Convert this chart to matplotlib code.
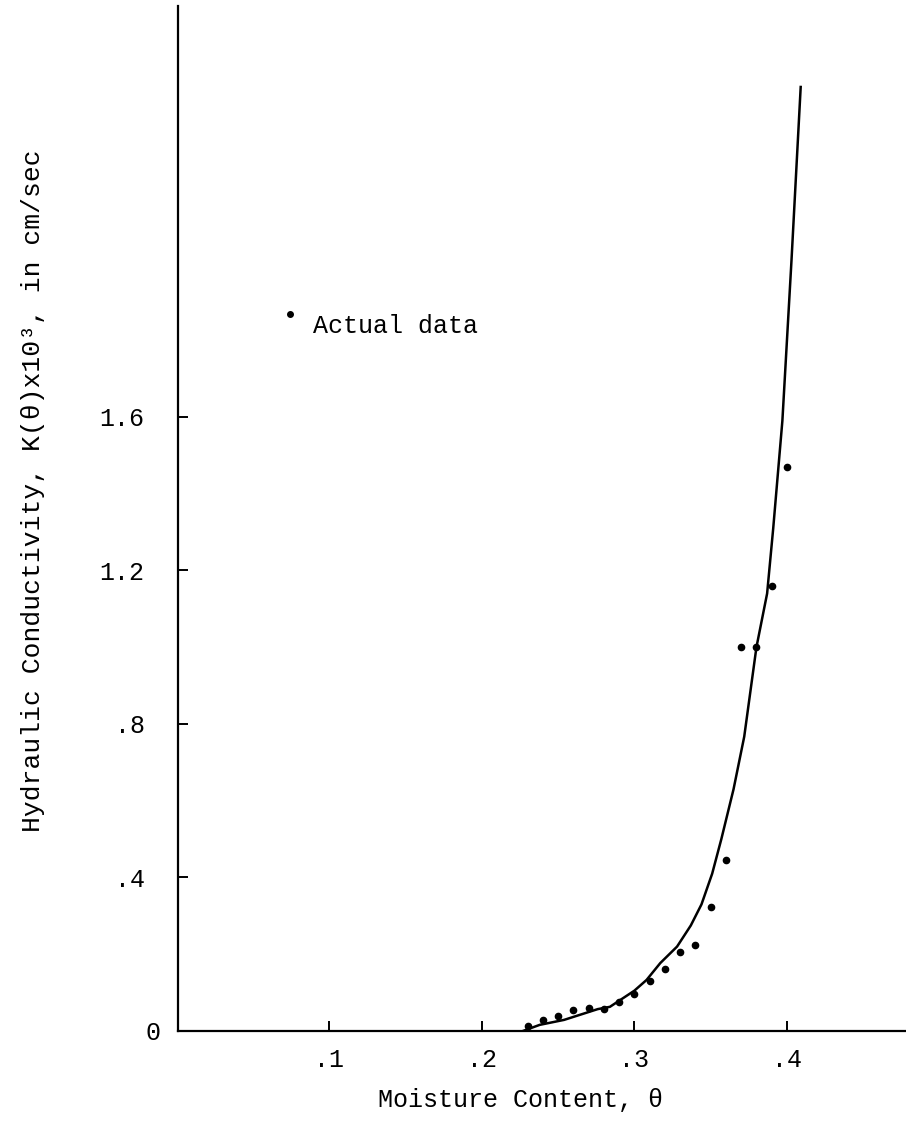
import matplotlib
matplotlib.use("Agg")
import matplotlib.pyplot as plt
from matplotlib.transforms import ScaledTranslation

# Actual data points (moisture content vs K x 10^3)
theta_data = [0.23, 0.24, 0.25, 0.26, 0.27, 0.28, 0.29, 0.30, 0.31,
              0.32, 0.33, 0.34, 0.35, 0.36, 0.37, 0.38, 0.39, 0.40]
k_data = [0.013, 0.029, 0.039, 0.055, 0.060, 0.057, 0.076, 0.096, 0.130,
          0.162, 0.206, 0.224, 0.323, 0.446, 1.00, 1.00, 1.16, 1.47]

# Fitted curve
theta_fit = [0.227, 0.238, 0.254, 0.276, 0.284, 0.300, 0.308, 0.317, 0.328,
             0.337, 0.344, 0.351, 0.357, 0.365, 0.372, 0.380, 0.387, 0.391,
             0.397, 0.403, 0.409]
k_fit = [0.0, 0.016, 0.029, 0.057, 0.063, 0.105, 0.133, 0.177, 0.22,
         0.275, 0.33, 0.41, 0.50, 0.63, 0.767, 1.0, 1.14, 1.31,
         1.59, 2.01, 2.46]

x_ticks = [0.1, 0.2, 0.3, 0.4]
x_labels = [".1", ".2", ".3", ".4"]
y_ticks = [0, 0.4, 0.8, 1.2, 1.6]
y_labels = ["0", ".4", ".8", "1.2", "1.6"]

font = ["Liberation Mono", "DejaVu Sans Mono"]
plt.rcParams["font.family"] = font
plt.rcParams["font.size"] = 18

W, H = 906, 1137
fig = plt.figure(figsize=(W / 100, H / 100), dpi=100)
left, right, bottom, top = 178, 906, 1031, 6
ax = fig.add_axes([left / W, (H - bottom) / H, (right - left) / W, (bottom - top) / H])

ax.plot(theta_fit, k_fit, color="black", lw=1.8)
ax.plot(theta_data, k_data, "o", color="black", ms=4.5, ls="none")

ax.set_xlim(0.001, 0.478)
ax.set_ylim(0, 2.671)

ax.spines["top"].set_visible(False)
ax.spines["right"].set_visible(False)
ax.spines["left"].set_linewidth(1.6)
ax.spines["bottom"].set_linewidth(1.6)

ax.set_xticks(x_ticks)
ax.set_xticklabels(x_labels)
ax.set_yticks(y_ticks)
ax.set_yticklabels(y_labels)
ax.tick_params(axis="both", direction="in", length=7, width=1.4)
ax.tick_params(axis="y", pad=24)
ax.tick_params(axis="x", pad=12)

# the "0" label sits further right in the original
zero_lbl = ax.get_yticklabels()[0]
zero_lbl.set_transform(zero_lbl.get_transform() + ScaledTranslation(0.16, 0, fig.dpi_scale_trans))

# legend mark
ax.plot([0.154], [0.70], "o", color="black", ms=4, transform=ax.transAxes, clip_on=False)
fig.text(313 / W, 1 - 326 / H, "Actual data", ha="left", va="center")

fig.text(33 / W, 1 - 491 / H, "Hydraulic Conductivity, K(\u03b8)x10\u00b3, in cm/sec",
         rotation=90, ha="center", va="center", fontsize=19)
fig.text(520 / W, 1 - 1100 / H, "Moisture Content, \u03b8", ha="center", va="center")

fig.savefig("out.png", dpi=100)
